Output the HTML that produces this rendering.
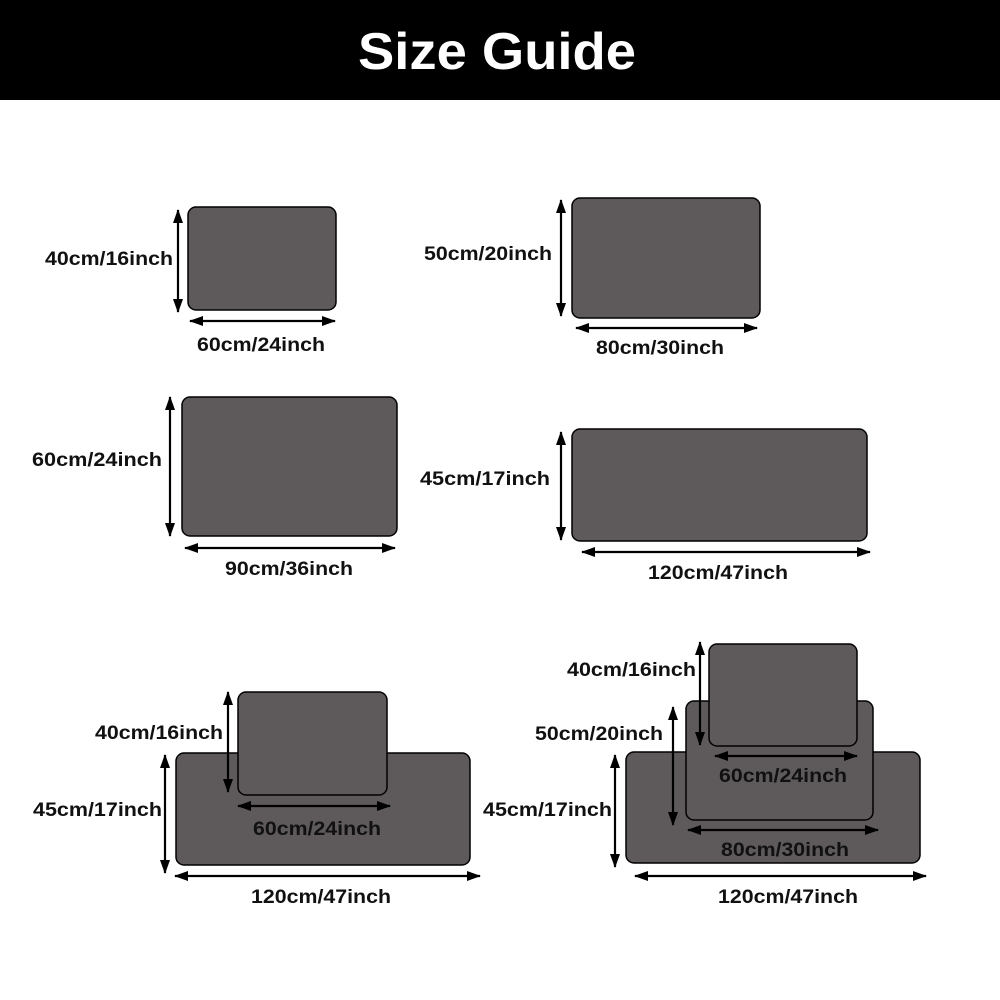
<!DOCTYPE html>
<html><head><meta charset="utf-8"><style>
html,body{margin:0;padding:0;background:#fff}
svg{display:block}
text{font-family:"Liberation Sans",sans-serif;font-weight:bold;fill:#111;font-size:19px}
</style></head><body>
<svg width="1000" height="1000" viewBox="0 0 1000 1000" xmlns="http://www.w3.org/2000/svg">
<defs>
<marker id="a" viewBox="0 0 14 10" refX="13" refY="5" markerWidth="14" markerHeight="10" markerUnits="userSpaceOnUse" orient="auto-start-reverse"><path d="M0,0 L14,5 L0,10 Z" fill="#000"/></marker>
</defs>
<rect x="0" y="0" width="1000" height="100" fill="#000"/>
<text x="497" y="69" text-anchor="middle" style="font-size:52px;fill:#fff" textLength="278" lengthAdjust="spacingAndGlyphs">Size Guide</text>
<g fill="#5e5a5b" stroke="#000" stroke-width="1.5">
<rect x="188" y="207" width="148" height="103" rx="8"/>
<rect x="572" y="198" width="188" height="120" rx="8"/>
<rect x="182" y="397" width="215" height="139" rx="8"/>
<rect x="572" y="429" width="295" height="112" rx="8"/>
<rect x="176" y="753" width="294" height="112" rx="8"/>
<rect x="238" y="692" width="149" height="103" rx="8"/>
<rect x="626" y="752" width="294" height="111" rx="8"/>
<rect x="686" y="701" width="187" height="119" rx="8"/>
<rect x="709" y="644" width="148" height="102" rx="8"/>
</g>
<g stroke="#000" stroke-width="2.2" marker-start="url(#a)" marker-end="url(#a)">
<line x1="178" y1="210" x2="178" y2="312"/>
<line x1="190" y1="321" x2="335" y2="321"/>
<line x1="561" y1="200" x2="561" y2="316"/>
<line x1="576" y1="328" x2="757" y2="328"/>
<line x1="170" y1="397" x2="170" y2="536"/>
<line x1="185" y1="548" x2="395" y2="548"/>
<line x1="561" y1="432" x2="561" y2="540"/>
<line x1="582" y1="552" x2="870" y2="552"/>
<line x1="228" y1="692" x2="228" y2="792"/>
<line x1="165" y1="755" x2="165" y2="873"/>
<line x1="238" y1="806" x2="390" y2="806"/>
<line x1="175" y1="876" x2="480" y2="876"/>
<line x1="700" y1="642" x2="700" y2="745"/>
<line x1="673" y1="707" x2="673" y2="825"/>
<line x1="615" y1="755" x2="615" y2="867"/>
<line x1="715" y1="756" x2="857" y2="756"/>
<line x1="688" y1="830" x2="878" y2="830"/>
<line x1="635" y1="876" x2="926" y2="876"/>
</g>
<g>
<text x="173" y="265" text-anchor="end" textLength="128" lengthAdjust="spacingAndGlyphs">40cm/16inch</text>
<text x="261" y="351" text-anchor="middle" textLength="128" lengthAdjust="spacingAndGlyphs">60cm/24inch</text>
<text x="552" y="260" text-anchor="end" textLength="128" lengthAdjust="spacingAndGlyphs">50cm/20inch</text>
<text x="660" y="354" text-anchor="middle" textLength="128" lengthAdjust="spacingAndGlyphs">80cm/30inch</text>
<text x="162" y="466" text-anchor="end" textLength="130" lengthAdjust="spacingAndGlyphs">60cm/24inch</text>
<text x="289" y="575" text-anchor="middle" textLength="128" lengthAdjust="spacingAndGlyphs">90cm/36inch</text>
<text x="550" y="485" text-anchor="end" textLength="130" lengthAdjust="spacingAndGlyphs">45cm/17inch</text>
<text x="718" y="579" text-anchor="middle" textLength="140" lengthAdjust="spacingAndGlyphs">120cm/47inch</text>
<text x="223" y="739" text-anchor="end" textLength="128" lengthAdjust="spacingAndGlyphs">40cm/16inch</text>
<text x="162" y="816" text-anchor="end" textLength="129" lengthAdjust="spacingAndGlyphs">45cm/17inch</text>
<text x="317" y="835" text-anchor="middle" textLength="128" lengthAdjust="spacingAndGlyphs">60cm/24inch</text>
<text x="321" y="903" text-anchor="middle" textLength="140" lengthAdjust="spacingAndGlyphs">120cm/47inch</text>
<text x="696" y="676" text-anchor="end" textLength="129" lengthAdjust="spacingAndGlyphs">40cm/16inch</text>
<text x="663" y="740" text-anchor="end" textLength="128" lengthAdjust="spacingAndGlyphs">50cm/20inch</text>
<text x="612" y="816" text-anchor="end" textLength="129" lengthAdjust="spacingAndGlyphs">45cm/17inch</text>
<text x="783" y="782" text-anchor="middle" textLength="128" lengthAdjust="spacingAndGlyphs">60cm/24inch</text>
<text x="785" y="856" text-anchor="middle" textLength="128" lengthAdjust="spacingAndGlyphs">80cm/30inch</text>
<text x="788" y="903" text-anchor="middle" textLength="140" lengthAdjust="spacingAndGlyphs">120cm/47inch</text>
</g>
</svg>
</body></html>
